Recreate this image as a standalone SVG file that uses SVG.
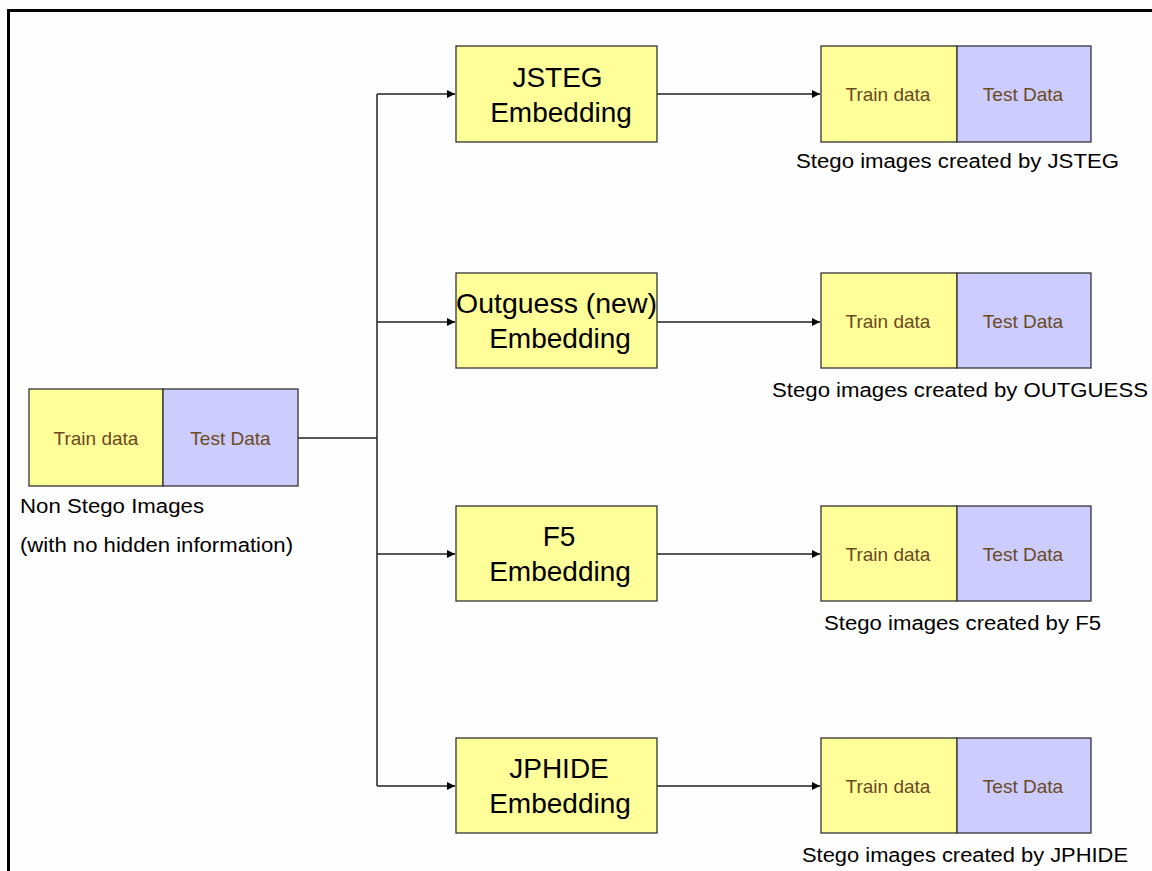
<svg xmlns="http://www.w3.org/2000/svg" width="1152" height="871" viewBox="0 0 1152 871">
<style>
.bg{fill:#fefefe}
.frame{fill:none;stroke:#000;stroke-width:3}
.tr{fill:#ffff99;stroke:#333;stroke-width:1.3}
.te{fill:#ccccff;stroke:#333;stroke-width:1.3}
.emb{fill:#ffff99;stroke:#333;stroke-width:1.3}
.dt{font-family:"Liberation Sans",Arial,sans-serif;font-size:19px;fill:#6b4a22;text-anchor:middle}
.et{font-family:"Liberation Sans",Arial,sans-serif;font-size:28px;fill:#000;text-anchor:middle}
.lb{font-family:"Liberation Sans",Arial,sans-serif;font-size:20px;fill:#000}
.lc{text-anchor:middle}
.ln{fill:none;stroke:#222;stroke-width:1.5}
</style>
<defs>
<marker id="ah" viewBox="0 0 10 10" refX="10" refY="5" markerWidth="10" markerHeight="8" markerUnits="userSpaceOnUse" orient="auto">
<path d="M0,0 L10,5 L0,10 z" fill="#000"/>
</marker>
</defs>
<rect class="bg" x="0" y="0" width="1152" height="871"/>
<path class="frame" d="M8.5,871 L8.5,10.5 L1152,10.5"/>

<g id="connectors">
<path class="ln" d="M298,438 L377,438"/>
<path class="ln" d="M377,94 L377,786"/>
<path class="ln" d="M377,94 L455,94" marker-end="url(#ah)"/>
<path class="ln" d="M377,322 L455,322" marker-end="url(#ah)"/>
<path class="ln" d="M377,554 L455,554" marker-end="url(#ah)"/>
<path class="ln" d="M377,786 L455,786" marker-end="url(#ah)"/>
<path class="ln" d="M657,94 L820,94" marker-end="url(#ah)"/>
<path class="ln" d="M657,322 L820,322" marker-end="url(#ah)"/>
<path class="ln" d="M657,554 L820,554" marker-end="url(#ah)"/>
<path class="ln" d="M657,786 L820,786" marker-end="url(#ah)"/>
</g>

<g id="non-stego">
<rect class="tr" x="29" y="389" width="134" height="97"/>
<rect class="te" x="163" y="389" width="135" height="97"/>
<text class="dt" x="96" y="445">Train data</text>
<text class="dt" x="230.5" y="445">Test Data</text>
<text class="lb" x="20" y="513" textLength="184" lengthAdjust="spacingAndGlyphs">Non Stego Images</text>
<text class="lb" x="20" y="552" textLength="273" lengthAdjust="spacingAndGlyphs">(with no hidden information)</text>
</g>

<g id="jsteg">
<rect class="emb" x="456" y="46" width="201" height="96"/>
<text class="et" x="557.5" y="87">JSTEG</text>
<text class="et" x="561" y="122">Embedding</text>
</g>
<g id="outguess">
<rect class="emb" x="456" y="273" width="201" height="95"/>
<text class="et" x="556.5" y="313" textLength="201" lengthAdjust="spacingAndGlyphs">Outguess (new)</text>
<text class="et" x="560" y="348">Embedding</text>
</g>
<g id="f5">
<rect class="emb" x="456" y="506" width="201" height="95"/>
<text class="et" x="559" y="546">F5</text>
<text class="et" x="560" y="581">Embedding</text>
</g>
<g id="jphide">
<rect class="emb" x="456" y="738" width="201" height="95"/>
<text class="et" x="559" y="778">JPHIDE</text>
<text class="et" x="560" y="813">Embedding</text>
</g>

<g id="out-jsteg">
<rect class="tr" x="821" y="46" width="136" height="96"/>
<rect class="te" x="957" y="46" width="134" height="96"/>
<text class="dt" x="888" y="101">Train data</text>
<text class="dt" x="1023" y="101">Test Data</text>
<text class="lb lc" x="957.5" y="168" textLength="323" lengthAdjust="spacingAndGlyphs">Stego images created by JSTEG</text>
</g>
<g id="out-outguess">
<rect class="tr" x="821" y="273" width="136" height="95"/>
<rect class="te" x="957" y="273" width="134" height="95"/>
<text class="dt" x="888" y="328">Train data</text>
<text class="dt" x="1023" y="328">Test Data</text>
<text class="lb lc" x="960" y="397" textLength="376" lengthAdjust="spacingAndGlyphs">Stego images created by OUTGUESS</text>
</g>
<g id="out-f5">
<rect class="tr" x="821" y="506" width="136" height="95"/>
<rect class="te" x="957" y="506" width="134" height="95"/>
<text class="dt" x="888" y="561">Train data</text>
<text class="dt" x="1023" y="561">Test Data</text>
<text class="lb lc" x="962.5" y="630" textLength="277" lengthAdjust="spacingAndGlyphs">Stego images created by F5</text>
</g>
<g id="out-jphide">
<rect class="tr" x="821" y="738" width="136" height="95"/>
<rect class="te" x="957" y="738" width="134" height="95"/>
<text class="dt" x="888" y="793">Train data</text>
<text class="dt" x="1023" y="793">Test Data</text>
<text class="lb lc" x="965" y="862" textLength="326" lengthAdjust="spacingAndGlyphs">Stego images created by JPHIDE</text>
</g>
</svg>
